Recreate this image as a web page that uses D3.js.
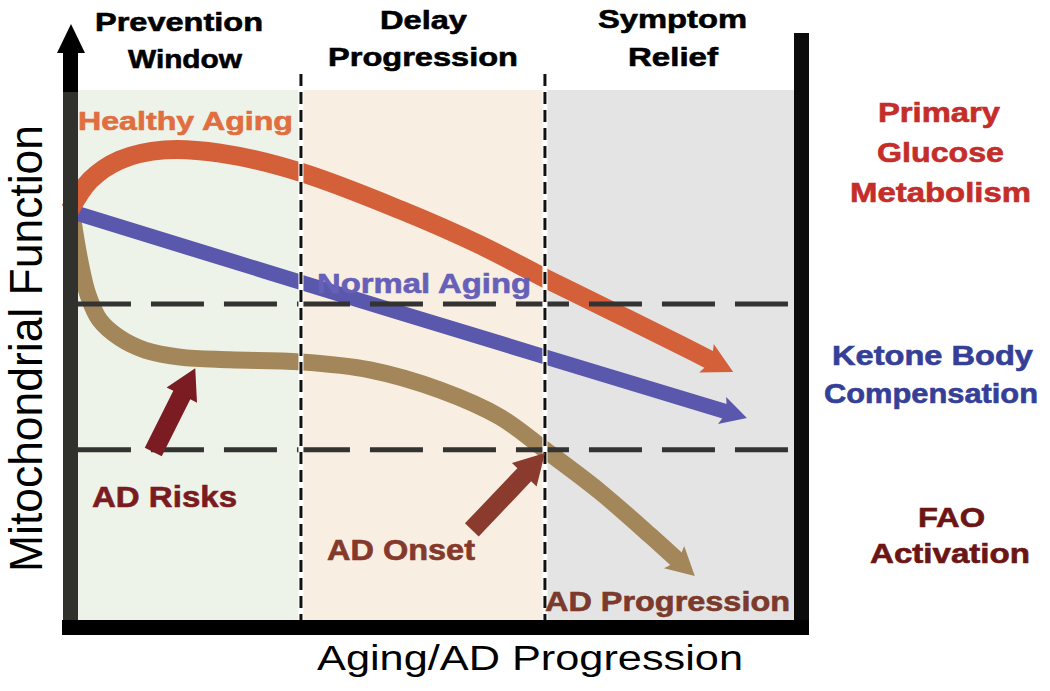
<!DOCTYPE html>
<html><head><meta charset="utf-8">
<script src="https://cdn.jsdelivr.net/npm/d3@7"></script>
<style>body{margin:0;background:#fff} svg text{font-family:"Liberation Sans",Arial,Helvetica,sans-serif}</style>
</head><body><svg id="c" width="1050" height="691"></svg>
<script>
// ---- data ----
const stageNames = [["Prevention","Window"],["Delay","Progression"],["Symptom","Relief"]];
const stageBounds = [1.1, 31.9, 65.6, 100];
const stageColors = ["#eef3ea","#f8eee2","#e4e4e4"];
const thresholds = [59.6, 32.1];
const metabolismLabels = [["Primary","Glucose","Metabolism"],["Ketone Body","Compensation"],["FAO","Activation"]];
const metabolismColors = ["#c42d2a","#353f98","#6b1515"];

const healthyX = [0, 2.8, 6.9, 13.1, 20.7, 31.8, 45.6, 56.6, 65.6, 76.0, 84.3, 91.6];
const healthyY = [77.4, 83.0, 86.8, 88.7, 88.1, 84.5, 77.4, 70.8, 64.5, 57.5, 51.9, 46.8];
const normalX = [0.3, 45.3, 93.5];
const normalY = [77.0, 58.1, 38.1];
const adX = [0.4, 1.4, 2.5, 4.1, 6.9, 10.4, 15.2, 22.1, 31.8, 41.4, 51.1, 59.4, 65.6, 73.2, 80.1, 86.3];
const adY = [75.5, 67.5, 61.3, 56.6, 53.2, 50.9, 49.6, 49.1, 48.7, 47.2, 43.4, 38.3, 32.1, 24.2, 16.0, 8.3];
const seriesNames = ["Healthy Aging","Normal Aging","AD Progression"];
const eventNames = ["AD Risks","AD Onset"];
const eventFrom = [[11.5, 31.7],[55.5, 17.0]];
const eventTo = [[17.3, 47.5],[65.6, 31.5]];
const axisTitles = ["Aging/AD Progression","Mitochondrial Function"];

// ---- scales ----
const x = d3.scaleLinear().domain([0,100]).range([70,794]);
const y = d3.scaleLinear().domain([0,100]).range([620,90]);
const svg = d3.select("#c");

// regions
stageColors.forEach((c,i)=>{
  const x0 = x(stageBounds[i]) + (i>0?2:0), x1 = x(stageBounds[i+1]) - (i<2?2:0);
  svg.append("rect").attr("x",x0).attr("y",y(100)).attr("width",x1-x0).attr("height",y(0)-y(100)).attr("fill",c);
});

// curves
function toPts(xs,ys){return xs.map((v,i)=>[x(v),y(ys[i])]);}
function drawArrowLine(pts,color,w,L,H){
  const n=pts.length, tip=pts[n-1], prev=pts[n-2];
  let dx=tip[0]-prev[0], dy=tip[1]-prev[1]; const len=Math.hypot(dx,dy); dx/=len; dy/=len;
  const linePts = pts.slice(0,n-1).concat([[tip[0]-dx*L*0.7, tip[1]-dy*L*0.7]]);
  svg.append("path").attr("d", d3.line().curve(d3.curveCatmullRom.alpha(0.5))(linePts))
    .attr("fill","none").attr("stroke",color).attr("stroke-width",w);
  const bx=tip[0]-dx*L, by=tip[1]-dy*L, px=-dy, py=dx;
  svg.append("path").attr("d",`M${tip[0]},${tip[1]}L${bx+px*H},${by+py*H}L${tip[0]-dx*L*0.8},${tip[1]-dy*L*0.8}L${bx-px*H},${by-py*H}Z`).attr("fill",color);
}
drawArrowLine(toPts(adX,adY),"#a3875a",17,28,15);
drawArrowLine(toPts(normalX,normalY),"#5a58ad",15,26,14);
drawArrowLine(toPts(healthyX,healthyY),"#d4603a",19,30,16);

// horizontal dashed thresholds
thresholds.forEach(t=>{
  svg.append("line").attr("x1",x(stageBounds[0])).attr("x2",x(100)).attr("y1",y(t)).attr("y2",y(t))
    .attr("stroke","#333331").attr("stroke-width",5).attr("stroke-dasharray","53,20");
});
// vertical dividers
[stageBounds[1],stageBounds[2]].forEach(b=>{
  svg.append("line").attr("x1",x(b)).attr("x2",x(b)).attr("y1",y(103)).attr("y2",y(0))
    .attr("stroke","#fff").attr("stroke-width",5);
  svg.append("line").attr("x1",x(b)).attr("x2",x(b)).attr("y1",y(103)).attr("y2",y(0))
    .attr("stroke","#111").attr("stroke-width",3).attr("stroke-dasharray","12,6");
});

// block arrows
const evColors=["#7b1c22","#8a3b2e"];
eventFrom.forEach((f,i)=>{
  const a=[x(f[0]),y(f[1])], b=[x(eventTo[i][0]),y(eventTo[i][1])];
  let dx=b[0]-a[0], dy=b[1]-a[1]; const len=Math.hypot(dx,dy); dx/=len; dy/=len;
  const px=-dy, py=dx, s=9.5, h=17, L=30;
  const nx=b[0]-dx*L, ny=b[1]-dy*L;
  const p=[[a[0]+px*s,a[1]+py*s],[nx+px*s,ny+py*s],[nx+px*h,ny+py*h],b,[nx-px*h,ny-py*h],[nx-px*s,ny-py*s],[a[0]-px*s,a[1]-py*s]];
  svg.append("path").attr("d","M"+p.map(q=>q.join(",")).join("L")+"Z").attr("fill",evColors[i]);
});

// frame
svg.append("rect").attr("x",63).attr("y",50).attr("width",15).attr("height",585).attr("fill","#000");
svg.append("rect").attr("x",63).attr("y",92).attr("width",15).attr("height",528).attr("fill","#30312c");
svg.append("path").attr("d","M71,24L85,53L57,53Z").attr("fill","#000");
svg.append("rect").attr("x",794).attr("y",33).attr("width",15).attr("height",602).attr("fill","#0c0c0c");
svg.append("rect").attr("x",62).attr("y",620).attr("width",747).attr("height",15).attr("fill","#000");

// text helper
function txt(s,x0,yb,w,fs,weight,color){
  const t = svg.append("text").attr("x",x0).attr("y",yb).attr("font-size",fs).attr("font-weight",weight)
    .attr("fill",color).attr("textLength",w).attr("lengthAdjust","spacingAndGlyphs").text(s);
  if(weight==="bold") t.attr("stroke",color).attr("stroke-width",0.6);
  return t;
}
// stage headers
const hdr=[[[95,31,168],[128,68,114]],[[380,29,87],[328,66,190]],[[598,28,149],[628,66,90]]];
stageNames.forEach((ln,i)=>ln.forEach((s,j)=>{const p=hdr[i][j]; txt(s,p[0],p[1],p[2],26.5,"bold","#000");}));
// series labels
txt(seriesNames[0],78,130,215,25.5,"bold","#e06e40");
txt(seriesNames[1],317,293,214,28,"bold","#6660b8");
txt(seriesNames[2],545,611,245,28,"bold","#7b3a2c");
txt(eventNames[0],92,507,145,30,"bold","#7a1b20");
txt(eventNames[1],327,560,148,29,"bold","#84392b");
// right labels
const rpos=[[[878,122,122],[877,162,127],[850,202,181]],[[832,365,201],[824,403,214]],[[918,527,67],[870,563,160]]];
metabolismLabels.forEach((ls,i)=>ls.forEach((s,j)=>{const p=rpos[i][j]; txt(s,p[0],p[1],p[2],27,"bold",metabolismColors[i]);}));
// axis titles
txt(axisTitles[0],317,670,426,35,"normal","#000");
svg.append("text").attr("transform","translate(42,572) rotate(-90)").attr("font-size",46)
  .attr("fill","#000").attr("textLength",447).attr("lengthAdjust","spacingAndGlyphs").text(axisTitles[1]);
</script></body></html>
